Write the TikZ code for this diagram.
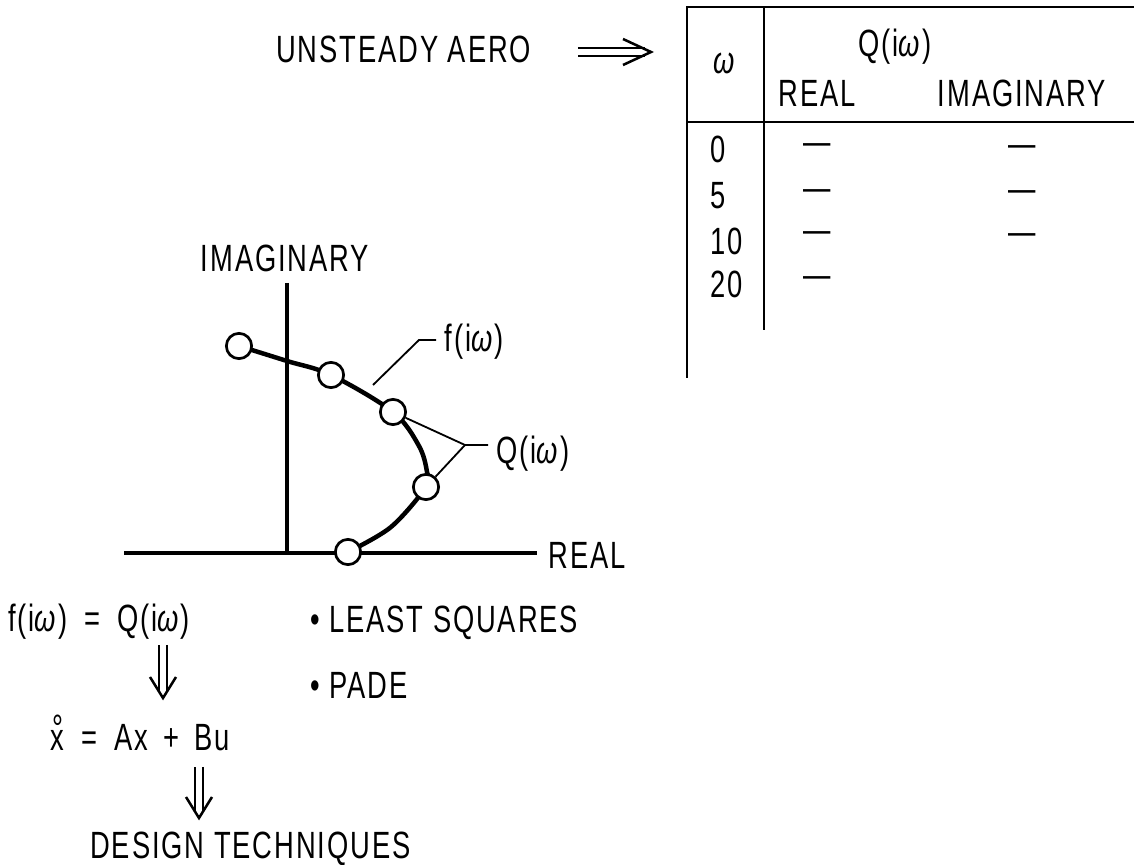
\documentclass[tikz,border=0pt]{standalone}
\usepackage{fontspec}
\setmainfont{Liberation Sans}[FakeStretch=0.72, LetterSpace=5]
\usetikzlibrary{arrows.meta, positioning, calc}
\newcommand{\om}{\textit{ω}}
\newcommand{\xring}{\makebox[0pt][l]{\hspace{0.05em}\raisebox{0.22em}{°}}x}

\begin{document}
\begin{tikzpicture}[
    x=0.025cm, y=-0.025cm, % one unit = one pixel of the sketch
    lbl/.style={inner sep=0pt, font=\fontsize{27}{32}\selectfont},
    axis/.style={line width=2.3pt},
    rule/.style={line width=2pt},
    leader/.style={line width=1.3pt},
    pt/.style={circle, draw, fill=white, line width=1.9pt, minimum size=18pt, inner sep=0pt},
    dblshaft/.style={double, double distance=4.6pt, line width=1.6pt, shorten >=4pt},
    chev/.style={line width=1.8pt, line join=miter}
]
    \useasboundingbox (0,0) rectangle (1134,865);

    % Unsteady aero input and its table
    \node[lbl, anchor=west] (aero) at (276,49) {UNSTEADY AERO};
    \coordinate (arrtip) at (651,52);
    \draw[dblshaft] ([xshift=33pt]aero.east |- arrtip) -- (arrtip);
    \draw[chev] ($(arrtip)+(-28,-13)$) -- (arrtip) -- ($(arrtip)+(-28,13)$);

    \coordinate (tabtl) at (687,7);
    \coordinate (tabtr) at (1134,7);
    \draw[rule] (tabtr) -- (tabtl) -- (687,378);
    \draw[rule] (687,122) -- (1134,122);
    \draw[rule] (764,7) -- (764,330);

    \node[lbl] (hw) at (725,63) {\om};
    \node[lbl] (hq) at (895,47) {Q(i\om)};
    \node[lbl] (hre) at (817,93) {REAL};
    \node[lbl] (him) at (1022,93) {IMAGINARY};

    \foreach \w/\yy in {0/149, 5/196, 10/241, 20/284}
        \node[lbl, anchor=west] (w\w) at (710,\yy) {\w};
    \foreach \yy [count=\i] in {149,195,237,282}
        \node[lbl] (re\i) at (817,\yy) {—};
    \foreach \yy [count=\i] in {151,196,239}
        \node[lbl] (im\i) at (1022,\yy) {—};

    % Complex plane sketch
    \node[lbl] (imlbl) at (285,258) {IMAGINARY};
    \coordinate (imtop) at (287,283);
    \coordinate (orig) at (287,553);
    \coordinate (releft) at (124,553);
    \node[lbl, anchor=west, inner xsep=8pt] (relbl) at (537,555) {REAL};
    \draw[axis] (imtop) -- (orig);
    \draw[axis] (releft) -- (releft -| relbl.west);

    \coordinate (c1) at (239,346);
    \coordinate (c2) at (331,375);
    \coordinate (c3) at (393,412);
    \coordinate (c4) at (426,487);
    \coordinate (c5) at (348,552);
    \draw[line width=3.2pt] plot[smooth, tension=0.55] coordinates
        {(c1) (287,361) (c2) (c3) (419,446) (427,472) (c4) (391,527) (c5)};
    \foreach \i in {1,...,5}
        \node[pt] (p\i) at (c\i) {};

    % labels with leaders
    \node[lbl, anchor=west, inner xsep=6pt] (flbl) at (436,342) {f(i\om)};
    \coordinate (fon) at (373,385);
    \coordinate (fbend) at (419,340);
    \draw[leader] (fon) -- (fbend) -- (fbend -| flbl.west);

    \node[lbl, anchor=west, inner xsep=6pt] (qlbl) at (488,454) {Q(i\om)};
    \coordinate (qjoin) at (465,445);
    \draw[leader] (p3) -- (qjoin) -- (qjoin -| qlbl.west);
    \draw[leader] (p4) -- (qjoin);

    % fitting chain
    \node[lbl, anchor=west] (eq1) at (8,622) {f(i\om)\hspace{0.45em}=\hspace{0.45em}Q(i\om)};
    \node[lbl, anchor=west] (eq2) at (50,733) {\xring\hspace{0.45em}=\hspace{0.45em}Ax\hspace{0.4em}+\hspace{0.4em}Bu};
    \node[lbl, anchor=west] (design) at (90,849) {DESIGN TECHNIQUES};
    \coordinate (a1) at (163,645);
    \coordinate (a1e) at (163,698);
    \coordinate (a2) at (199,767);
    \coordinate (a2e) at (199,818);
    \draw[dblshaft] (a1) -- (a1e);
    \draw[chev] ($(a1e)+(-13,-21)$) -- (a1e) -- ($(a1e)+(13,-21)$);
    \draw[dblshaft] (a2) -- (a2e);
    \draw[chev] ($(a2e)+(-13,-21)$) -- (a2e) -- ($(a2e)+(13,-21)$);

    \node[lbl, anchor=west] (ls) at (310,623) {\textbullet\ LEAST SQUARES};
    \node[lbl, anchor=west] (pade) at (310,685) {\textbullet\ PADE};
\end{tikzpicture}
\end{document}
